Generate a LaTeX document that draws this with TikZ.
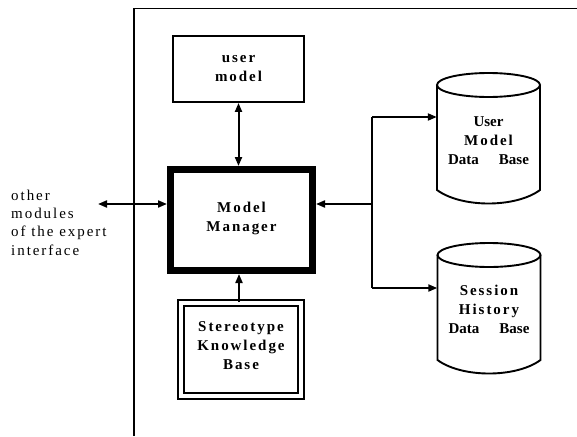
\documentclass[tikz,border=0pt]{standalone}
\usepackage{fontspec}
\setmainfont{Liberation Serif}
\newfontfamily\trk[LetterSpace=13]{Liberation Serif}
\usetikzlibrary{arrows.meta}

\tikzset{
  line/.style={line width=1.9pt},
  frame/.style={line width=1.5pt},
  conn/.style={line width=2pt, arrows={-Triangle[length=9pt,width=7pt]}},
  biconn/.style={line width=2pt, arrows={Triangle[length=9pt,width=7pt]-Triangle[length=9pt,width=7pt]}},
  boxlabel/.style={align=center, inner sep=0pt, font=\fontsize{15}{19}\selectfont\trk\bfseries},
  plainbox/.style={draw, line width=1.9pt, fill=white},
  dbtext/.style={align=center, inner sep=0pt, font=\fontsize{15}{19}\selectfont\bfseries},
  dbcyl/.pic={
    \draw[line] (0,12) ellipse [x radius=51.5pt, y radius=12pt];
    \draw[line] (-51.5,12) -- (-51.5,117) .. controls (-27,135) and (27,135) .. (51.5,117) -- (51.5,12);
  }
}

\begin{document}
\begin{tikzpicture}[x=1pt,y=-1pt]
\useasboundingbox (0,0) rectangle (577,436);

% frame of the expert interface
\draw[frame] (134,436) -- (134,8.5) -- (577,8.5);

% central modules
\node[plainbox, minimum width=131pt, minimum height=66pt] (um) at (238.5,69) {};
\node[boxlabel] (umt) at (238.5,69) {user\\model};
\node[draw, line width=7pt, minimum width=142pt, minimum height=101pt] (mm) at (241.5,220) {};
\node[boxlabel] (mmt) at (241.5,218) {Model\\Manager};
\node[draw, line width=1.9pt, double, double distance=4.2pt, minimum width=120pt, minimum height=93pt] (skb) at (241,349.5) {};
\node[boxlabel] (skbt) at (241,346) {Stereotype\\Knowledge\\Base};

% data bases
\pic at (488.5,73) {dbcyl};
\pic at (489,243) {dbcyl};
\node[dbtext, minimum width=103pt] (umdb) at (488.5,141)
  {User\\{\trk Model}\\Data\hspace{20pt}Base};
\node[dbtext, minimum width=103pt] (shdb) at (489,309.5)
  {{\trk Session}\\{\trk History}\\Data\hspace{20pt}Base};

% other modules
\node[align=left, anchor=west, inner sep=0pt, font=\fontsize{15}{18.3}\selectfont\trk] (om) at (11,222.5)
  {other\\modules\\of the expert\\interface};

% connectors
\coordinate (omtip) at (98,204);
\coordinate (br) at (372,204);
\coordinate (b1) at (372,117);
\coordinate (b2) at (372,288);

\draw[biconn] (um.south) -- (um.south |- mm.north);
\draw[conn] (skb.north -| 239,0) -- (mm.south -| 239,0);
\draw[biconn] (omtip) -- (omtip -| mm.west);
\draw[conn] (br) -- (br -| mm.east);
\draw[line] (b1) -- (b2);
\draw[conn] (b1) -- (b1 -| umdb.west);
\draw[conn] (b2) -- (b2 -| shdb.west);
\end{tikzpicture}
\end{document}
